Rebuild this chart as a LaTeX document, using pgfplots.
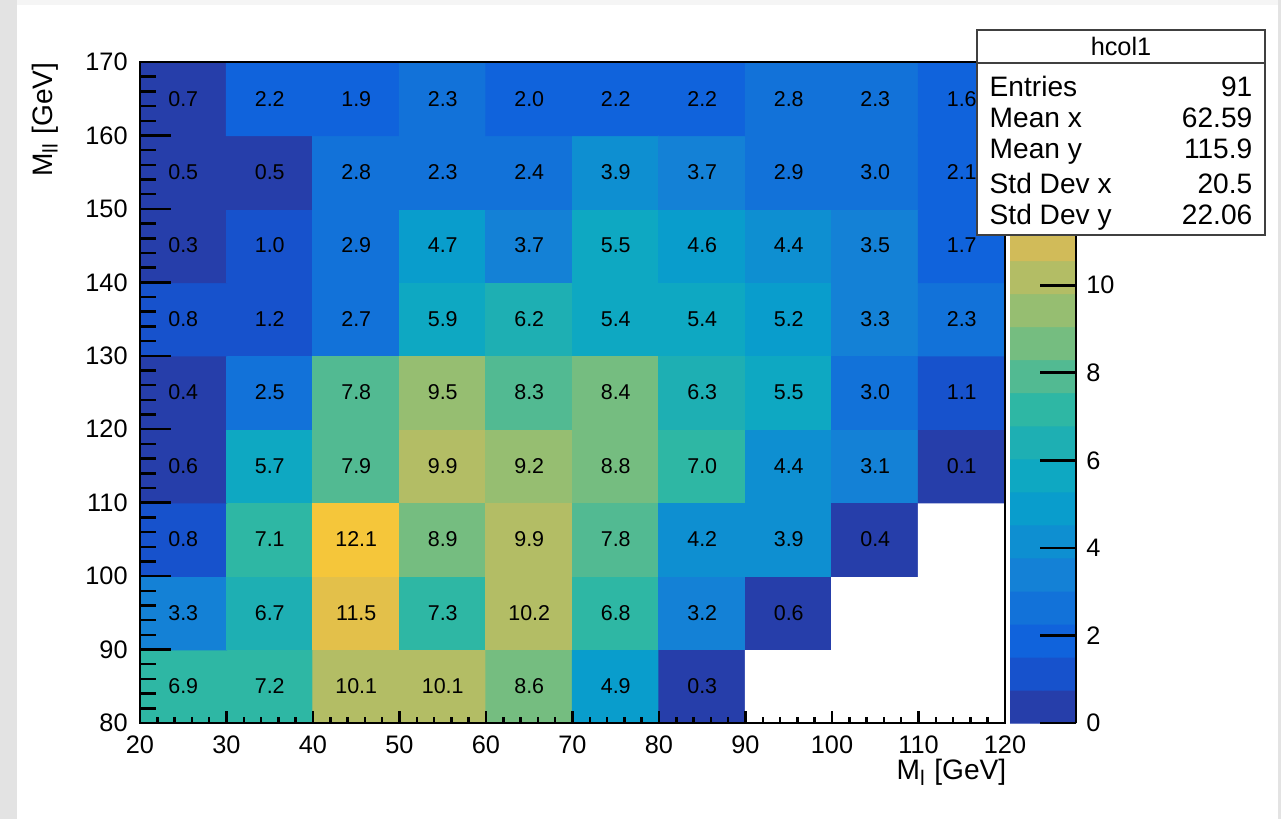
\documentclass[border=0pt]{standalone}
\usepackage{pgfplots}
\pgfplotsset{compat=1.18}
\usepackage{pgfplotstable}
\usepackage{fontspec}
\setmainfont{Liberation Sans}

\pgfplotstableread{
x y z
25 85 6.9
35 85 7.2
45 85 10.1
55 85 10.1
65 85 8.6
75 85 4.9
85 85 0.3
95 85 -1
105 85 -1
115 85 -1
25 95 3.3
35 95 6.7
45 95 11.5
55 95 7.3
65 95 10.2
75 95 6.8
85 95 3.2
95 95 0.6
105 95 -1
115 95 -1
25 105 0.8
35 105 7.1
45 105 12.1
55 105 8.9
65 105 9.9
75 105 7.8
85 105 4.2
95 105 3.9
105 105 0.4
115 105 -1
25 115 0.6
35 115 5.7
45 115 7.9
55 115 9.9
65 115 9.2
75 115 8.8
85 115 7.0
95 115 4.4
105 115 3.1
115 115 0.1
25 125 0.4
35 125 2.5
45 125 7.8
55 125 9.5
65 125 8.3
75 125 8.4
85 125 6.3
95 125 5.5
105 125 3.0
115 125 1.1
25 135 0.8
35 135 1.2
45 135 2.7
55 135 5.9
65 135 6.2
75 135 5.4
85 135 5.4
95 135 5.2
105 135 3.3
115 135 2.3
25 145 0.3
35 145 1.0
45 145 2.9
55 145 4.7
65 145 3.7
75 145 5.5
85 145 4.6
95 145 4.4
105 145 3.5
115 145 1.7
25 155 0.5
35 155 0.5
45 155 2.8
55 155 2.3
65 155 2.4
75 155 3.9
85 155 3.7
95 155 2.9
105 155 3.0
115 155 2.1
25 165 0.7
35 165 2.2
45 165 1.9
55 165 2.3
65 165 2.0
75 165 2.2
85 165 2.2
95 165 2.8
105 165 2.3
115 165 1.6
}\histdata

% colour bar: 20 contour levels of width 0.755
\pgfplotstableread{
x i
0.25 0
0.75 0
0.25 1
0.75 1
0.25 2
0.75 2
0.25 3
0.75 3
0.25 4
0.75 4
0.25 5
0.75 5
0.25 6
0.75 6
0.25 7
0.75 7
0.25 8
0.75 8
0.25 9
0.75 9
0.25 10
0.75 10
0.25 11
0.75 11
0.25 12
0.75 12
0.25 13
0.75 13
0.25 14
0.75 14
0.25 15
0.75 15
0.25 16
0.75 16
0.25 17
0.75 17
0.25 18
0.75 18
0.25 19
0.75 19
}\bardata

\pgfplotsset{colormap={rootbird}{
rgb=(0.1486,0.2438,0.6649) rgb=(0.0890,0.3212,0.8006) rgb=(0.0630,0.3887,0.8624)
rgb=(0.0705,0.4464,0.8505) rgb=(0.0780,0.5041,0.8385) rgb=(0.0561,0.5592,0.8197)
rgb=(0.0342,0.6143,0.8008) rgb=(0.0546,0.6571,0.7616) rgb=(0.1174,0.6874,0.7021)
rgb=(0.1802,0.7178,0.6425) rgb=(0.3202,0.7304,0.5720) rgb=(0.4601,0.7429,0.5015)
rgb=(0.5878,0.7459,0.4429) rgb=(0.7032,0.7394,0.3964) rgb=(0.8186,0.7328,0.3499)
rgb=(0.8894,0.7542,0.2887) rgb=(0.9602,0.7755,0.2274) rgb=(0.9918,0.8256,0.1682)
rgb=(0.9841,0.9044,0.1111) rgb=(0.9764,0.9832,0.0539) rgb=(1,1,1)}}

\newcommand{\tickfont}{\fontsize{7.2}{8}\selectfont}
\newcommand{\titlefont}{\fontsize{8}{9}\selectfont}

\begin{document}
\begin{tikzpicture}[x=1cm,y=1cm]
\fill[white] (0,0) rectangle (12.81,8.19);
\fill[black!11] (0,0) rectangle (0.17,8.19);
\fill[black!11] (12.78,0) rectangle (12.81,8.19);
\fill[black!4] (0.17,8.14) rectangle (12.78,8.19);

% main histogram
\begin{axis}[
  at={(1.40cm,0.96cm)}, anchor=south west,
  scale only axis, width=8.65cm, height=6.61cm,
  xmin=20, xmax=120, ymin=80, ymax=170,
  colormap name=rootbird, colormap access=direct,
  axis on top,
  axis line style={line width=0.8pt, black},
  tick style={line width=0.7pt, black},
  tick align=inside, tick pos=left,
  xtick={20,30,...,120}, minor x tick num=4,
  ytick=\empty,
  major tick length=0.12cm, minor tick length=0.06cm,
  /pgf/number format/assume math mode=true,
  tick label style={font=\tickfont},
  xlabel={M\textsubscript{l} [GeV]},
  xlabel style={font=\titlefont, at={(axis description cs:1,0)}, anchor=north east, yshift=-0.355cm, xshift=0.02cm, inner sep=0pt},
]
\addplot[matrix plot*, mesh/cols=10, mesh/ordering=x varies,
  point meta={\thisrow{z}<0 ? 20 : floor(\thisrow{z}/0.755)}]
  table[x=x, y=y] {\histdata};
\addplot[draw=none, mark=none,
  restrict expr to domain={\thisrow{z}}{0:100},
  point meta=\thisrow{z},
  nodes near coords={\pgfmathprintnumber[fixed, fixed zerofill, precision=1]{\pgfplotspointmeta}},
  nodes near coords align=center,
  every node near coord/.style={font=\fontsize{6.1}{7}\selectfont, text=black, inner sep=0pt, anchor=center}]
  table[x=x, y=y] {\histdata};
\end{axis}

% y ticks (longer, as in ROOT)
\begin{axis}[
  at={(1.40cm,0.96cm)}, anchor=south west,
  scale only axis, width=8.65cm, height=6.61cm,
  xmin=20, xmax=120, ymin=80, ymax=170,
  axis line style={line width=0.8pt, black},
  tick style={line width=0.7pt, black},
  tick align=inside, tick pos=left,
  xtick=\empty,
  ytick={80,90,...,170}, minor y tick num=4,
  major tick length=0.31cm, minor tick length=0.155cm,
  /pgf/number format/assume math mode=true,
  tick label style={font=\tickfont},
  ylabel={M\textsubscript{ll} [GeV]},
  ylabel style={font=\titlefont, at={(axis description cs:-0.110,1)}, anchor=east, inner sep=0pt},
]
\addplot[draw=none] coordinates {(20,80)};
\end{axis}

% colour bar
\begin{axis}[
  at={(10.10cm,0.96cm)}, anchor=south west,
  scale only axis, width=0.66cm, height=6.61cm,
  xmin=0, xmax=1, ymin=0, ymax=15.1,
  colormap name=rootbird, colormap access=direct,
  axis on top,
  axis x line=none, axis y line*=right,
  axis line style={line width=0.8pt, black, -},
  tick style={line width=0.8pt, black},
  tick align=inside,
  ytick={0,2,...,10}, minor y tick num=0,
  yticklabel pos=right,
  major tick length=0.36cm,
  /pgf/number format/assume math mode=true,
  tick label style={font=\tickfont},
  yticklabel style={xshift=-0.02cm},
]
\addplot[matrix plot*, mesh/cols=2, mesh/ordering=x varies,
  point meta=\thisrow{i}]
  table[x=x, y expr={(\thisrow{i}+0.5)*0.755}] {\bardata};
\end{axis}

% statistics box
\draw[fill=white, draw=black!75, line width=0.7pt] (9.77,5.84) rectangle (12.65,7.89);
\draw[black!75, line width=0.7pt] (9.77,7.56) -- (12.65,7.56);
\node[font=\fontsize{7.2}{8}\selectfont] at (11.21,7.725) {hcol1};
\begin{scope}[every node/.style={font=\fontsize{8}{9}\selectfont, inner sep=0pt}]
\node[anchor=base west] at (9.89,7.23) {Entries};
\node[anchor=base east] at (12.53,7.23) {91};
\node[anchor=base west] at (9.89,6.91) {Mean x};
\node[anchor=base east] at (12.53,6.91) {62.59};
\node[anchor=base west] at (9.89,6.60) {Mean y};
\node[anchor=base east] at (12.53,6.60) {115.9};
\node[anchor=base west] at (9.89,6.26) {Std Dev x};
\node[anchor=base east] at (12.53,6.26) {20.5};
\node[anchor=base west] at (9.89,5.95) {Std Dev y};
\node[anchor=base east] at (12.53,5.95) {22.06};
\end{scope}
\end{tikzpicture}
\end{document}
